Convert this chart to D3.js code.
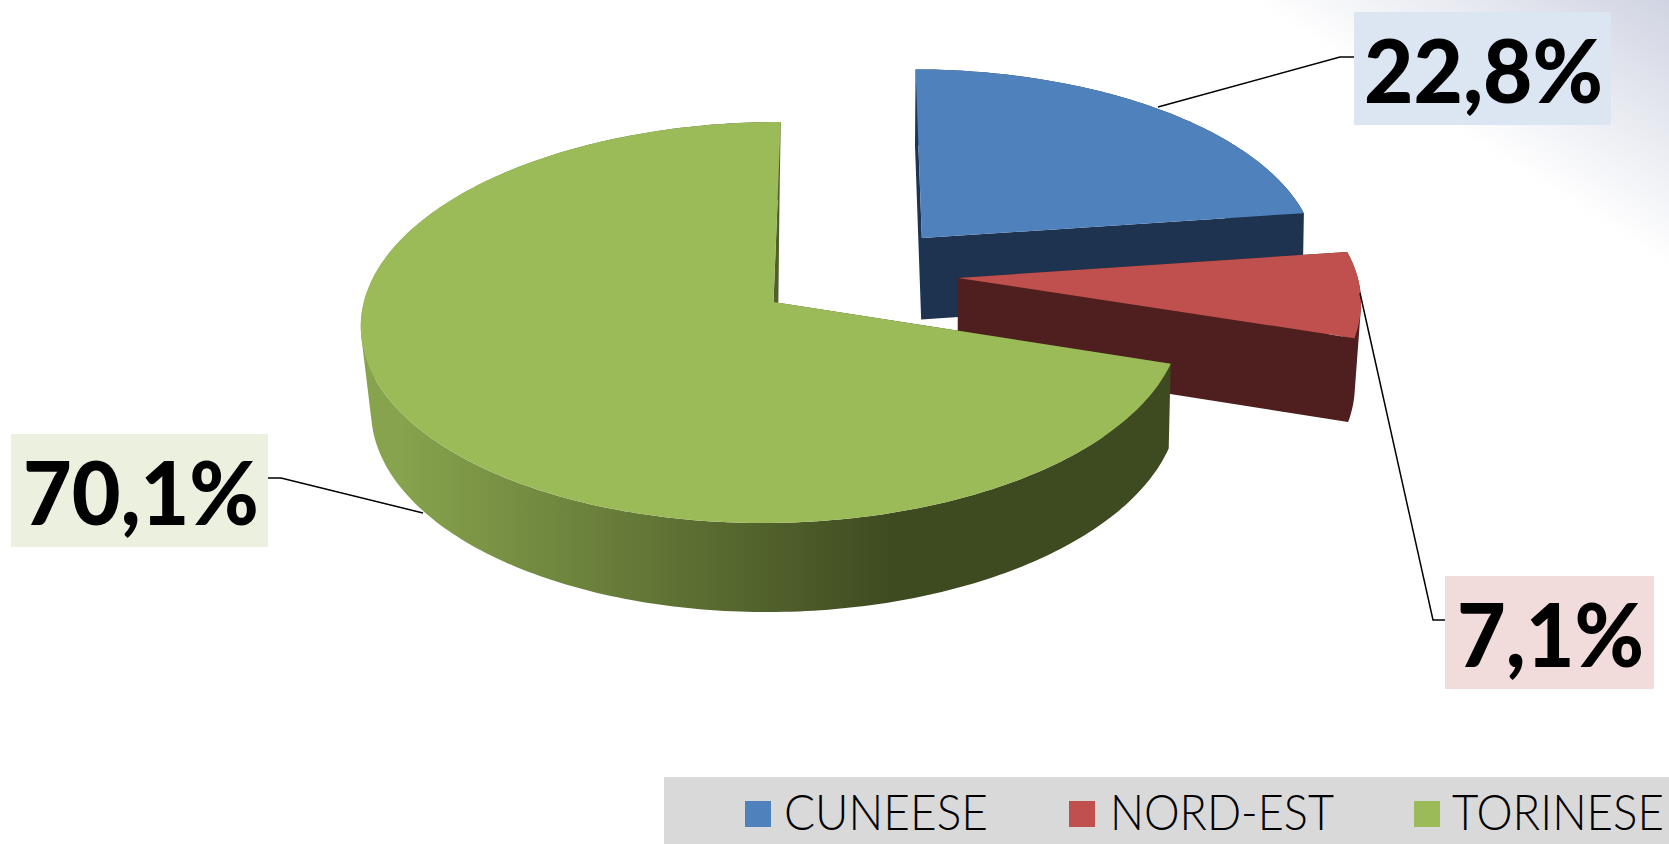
<!DOCTYPE html>
<html>
<head>
<meta charset="utf-8">
<script src="https://cdn.jsdelivr.net/npm/d3@7"></script>
<style>
  body { margin: 0; background: #fff; overflow: hidden; }
  text { font-family: Lato, "Open Sans", sans-serif; fill: #000; }
</style>
</head>
<body>
<svg id="chart" width="1669" height="844"></svg>
<script>
// chart values
const categories = ["CUNEESE", "NORD-EST", "TORINESE"];
const shares = [22.8, 7.1, 70.1];
const topColors = ["#4f81bd", "#c0504d", "#9bbb59"];
const sideColors = ["#1e334f", "#4f1f1f", "url(#greenSide)"];
const boxColors = ["#dce6f2", "#f2dcdb", "#ebf1de"];

// how far each slice is pulled out of the pie, in pie radius units
const explode = [[0.37, 0.334], [0.456, 0.123], [0, 0]];
// sideways lean of the walls of each slice: base, towards back, towards right
const wallLean = [[1.5, 0, 5], [2.5, 0, 0], [4, -5.3, 0]];

// data label boxes, text extents and leader lines
const labelBoxes = [[1354, 12, 257, 113], [1445, 576, 209, 113], [11, 434, 257, 113]];
const labelText = [[1364, 103, 239], [1457, 667, 187], [23, 525, 236]];
const leaders = [
  [[1158, 107], [1340, 57], [1354, 57]],
  [[1360, 293], [1433, 620], [1445, 620]],
  [[268, 478], [281, 478], [423, 513]]
];

// legend layout
const legendSwatchX = [745, 1069, 1414];
const legendTextX = [[784, 204], [1110, 224], [1452, 212]];

const svg = d3.select("#chart");
const defs = svg.append("defs");

// grey shading in the top right corner of the slide
const cornerGrad = defs.append("linearGradient")
  .attr("id", "corner")
  .attr("gradientUnits", "userSpaceOnUse")
  .attr("x1", 1548).attr("y1", 190)
  .attr("x2", 1669).attr("y2", 0);
cornerGrad.append("stop").attr("offset", 0).attr("stop-color", "#fff");
cornerGrad.append("stop").attr("offset", 1).attr("stop-color", "#d0d4e2");

const greenGrad = defs.append("linearGradient")
  .attr("id", "greenSide")
  .attr("gradientUnits", "userSpaceOnUse")
  .attr("x1", 400).attr("y1", 0)
  .attr("x2", 895).attr("y2", 0);
greenGrad.append("stop").attr("offset", 0).attr("stop-color", "#87a34d");
greenGrad.append("stop").attr("offset", 1).attr("stop-color", "#3e4a20");

svg.append("rect").attr("width", 1669).attr("height", 844).attr("fill", "url(#corner)");

// perspective projection of the pie: u goes right, v goes back, h goes down
const view = { ax: 773.5, ay: 302, A: 408, B: 198.4, S: 8, k: 0.1022, m: 0.004, n: 0.015, D: 84.6 };
function project(u, v, h, lean) {
  const w = 1 + view.k * v + view.m * u + view.n * h;
  return [
    view.ax + (view.A * u + view.S * v + lean * h) / w,
    view.ay + (-view.B * v + view.D * h) / w
  ];
}

const arcs = d3.pie().sort(null)(shares);
const line = d3.line();

// point of slice i at angle a and radius r, on the top (h=0) or bottom (h=1)
function slicePoint(i, a, r, h) {
  const du = r * Math.sin(a), dv = r * Math.cos(a);
  const l = wallLean[i];
  const lean = l[0] + l[1] * Math.max(dv, 0) + l[2] * Math.max(du, 0);
  return project(explode[i][0] + du, explode[i][1] + dv, h, lean);
}

function rimPoints(i, h) {
  const a0 = arcs[i].startAngle, a1 = arcs[i].endAngle;
  const steps = Math.ceil((a1 - a0) * 60);
  return d3.range(steps + 1).map(s => slicePoint(i, a0 + (a1 - a0) * s / steps, 1, h));
}

const pie = svg.append("g");
categories.forEach((c, i) => {
  const g = pie.append("g");
  const top = rimPoints(i, 0), bottom = rimPoints(i, 1);
  const apexTop = slicePoint(i, 0, 0, 0);
  const apexBottom = slicePoint(i, 0, 0, 1);
  const n = top.length - 1;

  // side walls: the two cut faces, then one quad per rim step
  const walls = [
    [apexTop, top[0], bottom[0], apexBottom],
    [apexTop, top[n], bottom[n], apexBottom]
  ];
  d3.range(n).forEach(s => walls.push([top[s], top[s + 1], bottom[s + 1], bottom[s]]));

  // same winding for every quad so that the overlaps stay filled
  const wallPath = walls
    .map(q => d3.polygonArea(q) < 0 ? q.slice().reverse() : q)
    .map(q => line(q) + "Z")
    .join("");

  g.append("path")
    .attr("d", wallPath)
    .attr("fill", sideColors[i]);

  g.append("path")
    .attr("d", line([apexTop].concat(top)) + "Z")
    .attr("fill", topColors[i]);
});

// leader lines
leaders.forEach(p => {
  svg.append("path")
    .attr("d", line(p))
    .attr("fill", "none")
    .attr("stroke", "#000")
    .attr("stroke-width", 1.5);
});

// squeeze a text horizontally so that it spans the given width
function fitText(sel, x, y, width) {
  const natural = sel.node().getComputedTextLength();
  sel.attr("transform", `translate(${x},${y}) scale(${width / natural},1)`);
}

// data labels
const fmt = d3.format(".1f");
shares.forEach((v, i) => {
  const b = labelBoxes[i], t = labelText[i];
  svg.append("rect")
    .attr("x", b[0]).attr("y", b[1])
    .attr("width", b[2]).attr("height", b[3])
    .attr("fill", boxColors[i]);
  const label = svg.append("text")
    .style("font-size", "88px")
    .style("font-weight", 900)
    .text(fmt(v).replace(".", ",") + "%");
  fitText(label, t[0], t[1], t[2]);
});

// legend
svg.append("rect")
  .attr("x", 664).attr("y", 777)
  .attr("width", 1005).attr("height", 67)
  .attr("fill", "#d9d9d9");
categories.forEach((c, i) => {
  svg.append("rect")
    .attr("x", legendSwatchX[i]).attr("y", 801)
    .attr("width", 26).attr("height", 26)
    .attr("fill", topColors[i]);
  const item = svg.append("text")
    .style("font-size", "49px")
    .style("font-weight", 300)
    .text(c);
  fitText(item, legendTextX[i][0], 830, legendTextX[i][1]);
});
</script>
</body>
</html>
